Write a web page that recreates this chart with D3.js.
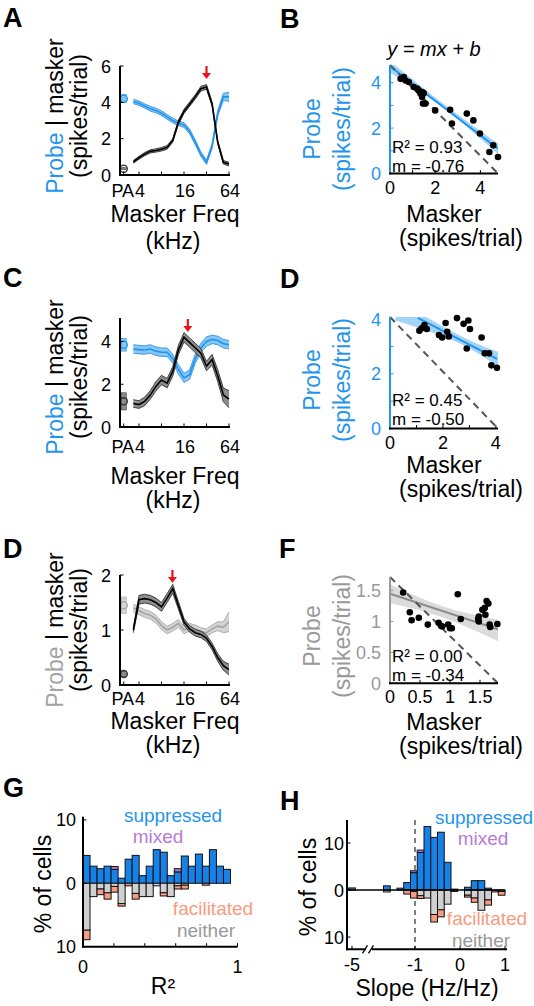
<!DOCTYPE html>
<html><head><meta charset="utf-8">
<script src="https://cdn.jsdelivr.net/npm/d3@7"></script>
<style>
body{margin:0;background:#fff}
svg text{font-family:"Liberation Sans",Arial,Helvetica,sans-serif;fill:#000}
</style></head><body>
<svg id="fig" width="534" height="1006"></svg>
<script>
// ---------------- DATA ----------------
const freqsKHz = [3.36,4,4.76,5.66,6.73,8,9.51,11.31,13.45,16,19.03,22.63,26.91,32,38.05,45.25,53.82,64];
const freqTickVals = [4,8,16,32,64];
const freqTickLabels = ["4","16","64"];

// Panel A
const aMasker    = [0.72,0.95,1.15,1.3,1.35,1.42,1.52,1.9,2.9,3.5,3.9,4.3,4.75,4.85,3.9,1.8,0.7,0.6];
const aMaskerSem = [0.08,0.08,0.09,0.09,0.09,0.1,0.1,0.1,0.12,0.12,0.12,0.12,0.13,0.13,0.12,0.1,0.1,0.1];
const aProbe     = [4.05,3.95,3.8,3.65,3.55,3.4,3.2,3.0,2.85,2.75,2.4,1.8,1.15,0.7,1.6,3.4,4.3,4.3];
const aProbeSem  = [0.12,0.12,0.12,0.13,0.13,0.13,0.13,0.13,0.13,0.13,0.13,0.13,0.12,0.12,0.13,0.15,0.2,0.25];
const aPA = {probe:4.2, probeSem:0.22, masker:0.35, maskerSem:0.05};
const aArrowKHz = 32;
// Panel C
const cMasker    = [1.1,1.05,1.2,1.5,1.9,2.2,2.05,2.6,3.6,4.2,3.95,3.7,3.45,2.85,3.15,2.4,1.5,1.3];
const cMaskerSem = [0.18,0.18,0.2,0.2,0.22,0.22,0.22,0.22,0.22,0.22,0.22,0.22,0.22,0.22,0.25,0.28,0.32,0.4];
const cProbe     = [3.65,3.62,3.6,3.65,3.55,3.5,3.5,3.2,2.7,2.3,2.45,3.2,3.7,4.0,4.1,4.05,3.9,3.85];
const cProbeSem  = [0.2,0.2,0.2,0.2,0.2,0.2,0.2,0.2,0.22,0.22,0.22,0.22,0.22,0.22,0.2,0.2,0.2,0.2];
const cPA = {probe:3.85, probeSem:0.3, masker:1.2, maskerSem:0.4};
const cArrowKHz = 18;
// Panel D (left)
const eMasker    = [1.0,1.55,1.57,1.55,1.5,1.42,1.58,1.75,1.45,1.15,1.02,0.95,0.92,0.85,0.7,0.5,0.35,0.28];
const eMaskerSem = [0.05,0.08,0.08,0.08,0.08,0.08,0.08,0.08,0.07,0.06,0.06,0.06,0.06,0.06,0.06,0.07,0.08,0.1];
const eProbe     = [1.4,1.35,1.3,1.27,1.2,1.08,1.0,1.05,1.12,1.0,1.05,1.02,0.97,0.95,1.02,1.07,1.05,1.15];
const eProbeSem  = [0.07,0.07,0.07,0.07,0.07,0.07,0.07,0.07,0.07,0.07,0.07,0.07,0.07,0.07,0.07,0.08,0.1,0.18];
const ePA = {probe:1.45, probeSem:0.15, masker:0.2, maskerSem:0.05};
const eArrowKHz = 11.2;

// Panel B scatter
const bMasker = [0.47,0.61,0.69,0.83,1.05,1.20,1.27,1.35,1.42,1.49,1.42,1.46,1.57,2.0,2.66,2.74,3.40,3.69,3.98,4.57,4.40,4.78];
const bProbe  = [4.17,4.25,4.10,4.03,3.81,3.74,3.66,3.52,3.59,3.54,3.37,3.08,3.08,2.78,2.81,2.2,2.64,2.34,1.76,1.24,0.95,0.73];
const bFit = {m:-0.76, b:4.72, r2:"0.93", mText:"-0.76", from:0, to:4.78};
const bBand = {x:[0,2.4,4.78], lo:[4.45,2.86,0.85], hi:[4.95,3.04,1.32]};
// Panel D (right) scatter
const dMasker = [1.11,1.20,1.30,1.39,1.85,1.97,2.10,2.16,2.22,2.53,2.78,2.96,3.02,2.90,3.46,3.58,3.74,3.83,4.04];
const dProbe  = [3.58,3.67,3.79,3.64,3.42,3.33,3.86,3.54,3.37,4.04,3.83,3.95,3.64,2.93,3.33,2.75,2.75,2.31,2.22];
const dFit = {m:-0.5, b:4.57, r2:"0.45", mText:"-0.50", from:1.05, to:4.04};
const dBand = {x:[0.2,2.5,4.1], lo:[3.95,3.17,2.24], hi:[4.75,3.47,2.8]};
// Panel F scatter
const fMasker = [0.22,0.33,0.36,0.48,0.63,0.81,0.85,0.87,0.97,1.0,1.03,1.13,1.18,1.47,1.48,1.48,1.54,1.58,1.61,1.64,1.59,1.66,1.67,1.79];
const fProbe  = [1.47,1.15,1.02,1.06,0.95,0.98,0.93,0.92,0.95,0.89,0.89,1.44,1.04,1.04,1.08,1.0,1.19,1.22,1.33,1.29,1.11,0.95,0.91,0.96];
const fFit = {m:-0.32, b:1.45, r2:"0.00", mText:"-0.34", from:0, to:1.8};
const fBand = {x:[0,0.9,1.8], lo:[1.3,1.06,0.68], hi:[1.6,1.24,1.03]};

// Panel G histogram (R^2), bin width 1/22
const gBinWidth = 1/22;
const gSuppressed  = [4.4,2.7,2.3,2.7,2.2,0.8,3.8,4.4,1.2,2.7,5.3,4.9,1.2,1.8,4.3,2.7,4.6,2.7,5.3,2.7,2.2];
const gMixed       = [0,0,0,0,0.45,0,0,0,0,0,0,0,0,0.5,0,0,0,0,0,0,0];
const gNeither     = [7.4,2.1,0.9,1.5,0.5,3.2,0,1.6,2.1,2.1,0.4,1.5,2.1,0.4,0.3,0,0,0,0,0,0];
const gFacilitated = [1.5,0,0.9,1.0,0.9,0.4,0.4,0.9,0,0,0,0.5,0,0.5,0.6,0,0,0.3,0,0,0];
const gXTicks = [0,0.2,0.4,0.6,0.8,1];

// Panel H histogram (slope), bin width 0.15
const hBinWidth = 0.15;
const hCenters     = [-5,-1.625,-1.475,-1.325,-1.175,-1.025,-0.875,-0.725,-0.575,-0.425,-0.275,-0.125,0.025,0.175,0.325,0.475,0.625,0.775,0.925];
const hSuppressed  = [0.45,0.9,0,0.4,1.6,3.7,8.0,13.5,11.2,12.3,5.9,0.2,0,0.6,2.0,2.0,0.4,0,0];
const hMixed       = [0,0,0,0,0,0.4,0.5,0,0,0,0,0,0,0,0,0,0,0,0];
const hNeither     = [0,0.4,0,0,0,0.3,1.2,1.7,5.2,4.2,3.0,0.3,0,1.1,1.7,4.3,2.1,0,0.3];
const hFacilitated = [0,0,0,0,0.85,1.4,0.6,0,1.6,1.5,0,0,0,0.4,0.9,0,1.1,0.4,0.8];
const hXTicks = [-5,-1,0,1];

// ---------------- STYLE ----------------
const BLUE = "#1f95ee", BLUE_FILL = "#86c6f4", BLUE_EDGE = "#2a8ae0";
const GRAY = "#a3a3a3", GRAY_FILL = "#d4d4d4", GRAY_EDGE = "#a0a0a0";
const BAR_BLUE = "#1682e8", BAR_GRAY = "#d0d0d0", BAR_ORANGE = "#f79c80", PURPLE = "#b57bd6";
const RED = "#e8141c";
const TICK = 18, LAB = 23;

const svg = d3.select("#fig");
svg.append("rect").attr("width",534).attr("height",1006).attr("fill","#fff");

function letter(t,x,y){
  svg.append("text").attr("x",x).attr("y",y).attr("font-size",27).attr("font-weight","bold").text(t);
}
function rotLabel(x,y,parts,size){
  const t = svg.append("text").attr("transform",`translate(${x},${y}) rotate(-90)`)
    .attr("text-anchor","middle").attr("font-size",size||LAB);
  parts.forEach(p=>t.append("tspan").style("fill",p[1]).text(p[0]));
}
function txt(x,y,s,o={}){
  const t = svg.append("text").attr("x",x).attr("y",y).attr("font-size",o.size||TICK)
    .attr("text-anchor",o.anchor||"start").text(s);
  if(o.color) t.style("fill",o.color);
  if(o.italic) t.attr("font-style","italic");
  return t;
}

// ---------------- TUNING PANELS ----------------
function tuning(o){
  const x = d3.scaleLog().base(2).domain([4,64]).range([139,229]);
  const y = d3.scaleLinear().domain([0,o.yMax]).range([o.y0,o.yTop]);
  const xL = 120, xR = 230, paX = x(2.5);
  const g = svg.append("g");
  function series(vals, sems, fill, edge, line){
    const pts = vals.map((v,i)=>({f:freqsKHz[i],v,s:sems[i]}));
    g.append("path").datum(pts).attr("fill",fill).attr("stroke","none")
      .attr("d",d3.area().x(d=>x(d.f)).y0(d=>y(d.v-d.s)).y1(d=>y(d.v+d.s)));
    [-1,1].forEach(sg=>{
      g.append("path").datum(pts).attr("fill","none").attr("stroke",edge).attr("stroke-width",0.8)
        .attr("d",d3.line().x(d=>x(d.f)).y(d=>y(d.v+sg*d.s)));
    });
    g.append("path").datum(pts).attr("fill","none").attr("stroke",line).attr("stroke-width",1.6)
      .attr("d",d3.line().x(d=>x(d.f)).y(d=>y(d.v)));
  }
  series(o.probe,o.probeSem,o.pFill,o.pEdge,o.pLine);
  series(o.masker,o.maskerSem,"#8d8d8d","#222","#000");
  function pa(v,s,fill,col){
    g.append("rect").attr("x",paX-2.5).attr("width",5).attr("y",y(v+s)).attr("height",Math.max(1,y(v-s)-y(v+s)))
      .attr("fill",fill).attr("stroke",col).attr("stroke-width",0.6);
    g.append("circle").attr("cx",paX).attr("cy",y(v)).attr("r",3.6).attr("fill","none").attr("stroke",col).attr("stroke-width",1.3);
  }
  pa(o.pa.probe,o.pa.probeSem,o.pFill,o.pLine);
  pa(o.pa.masker,o.pa.maskerSem,"#8d8d8d","#333");
  g.append("line").attr("x1",xL).attr("x2",xL).attr("y1",o.yTop).attr("y2",o.y0+1).attr("stroke","#000").attr("stroke-width",2);
  g.append("line").attr("x1",xL-1).attr("x2",xR).attr("y1",o.y0).attr("y2",o.y0).attr("stroke","#000").attr("stroke-width",2);
  o.yTicks.forEach(t=>{
    g.append("line").attr("x1",xL).attr("x2",xL+3.5).attr("y1",y(t)).attr("y2",y(t)).attr("stroke","#000").attr("stroke-width",1);
    txt(111,y(t)+6.5,String(t),{anchor:"end"});
  });
  [paX].concat(freqTickVals.map(f=>x(f))).forEach(px=>{
    g.append("line").attr("x1",px).attr("x2",px).attr("y1",o.y0).attr("y2",o.y0-3.5).attr("stroke","#000").attr("stroke-width",1);
  });
  txt(paX-1,o.y0+o.tickDy,"PA",{anchor:"middle"});
  freqTickLabels.forEach(l=>{ txt(x(+l)+1,o.y0+o.tickDy,l,{anchor:"middle"}); });
  txt(175,o.xl1,"Masker Freq",{anchor:"middle",size:LAB});
  txt(173,o.xl2,"(kHz)",{anchor:"middle",size:LAB});
  rotLabel(63,o.ylc,[["Probe",o.pText],[" | masker","#000"]]);
  rotLabel(87,o.ylc,[["(spikes/trial)","#000"]]);
  const ax = x(o.arrow);
  g.append("line").attr("x1",ax).attr("x2",ax).attr("y1",o.arrowY).attr("y2",o.arrowY+8).attr("stroke",RED).attr("stroke-width",2.2);
  g.append("path").attr("d",`M${ax-4.5},${o.arrowY+7} L${ax+4.5},${o.arrowY+7} L${ax},${o.arrowY+13} Z`).attr("fill",RED);
}

tuning({masker:aMasker,maskerSem:aMaskerSem,probe:aProbe,probeSem:aProbeSem,pa:aPA,arrow:aArrowKHz,
  yMax:6,y0:175,yTop:66,yTicks:[0,2,4,6],tickDy:22,xl1:222,xl2:249,ylc:116,arrowY:66,
  pFill:BLUE_FILL,pEdge:BLUE_EDGE,pLine:BLUE,pText:BLUE});
tuning({masker:cMasker,maskerSem:cMaskerSem,probe:cProbe,probeSem:cProbeSem,pa:cPA,arrow:cArrowKHz,
  yMax:5.1,y0:427,yTop:318,yTicks:[0,2,4],tickDy:26,xl1:484,xl2:508,ylc:377,arrowY:319,
  pFill:BLUE_FILL,pEdge:BLUE_EDGE,pLine:BLUE,pText:BLUE});
tuning({masker:eMasker,maskerSem:eMaskerSem,probe:eProbe,probeSem:eProbeSem,pa:ePA,arrow:eArrowKHz,
  yMax:2,y0:685,yTop:575,yTicks:[0,1,2],tickDy:20,xl1:729,xl2:753,ylc:630,arrowY:570,
  pFill:GRAY_FILL,pEdge:GRAY_EDGE,pLine:GRAY,pText:GRAY});

// ---------------- SCATTER PANELS ----------------
let clipId = 0;
function scatter(o){
  const x = d3.scaleLinear().domain([0,o.xMax]).range([390,498]);
  const y = d3.scaleLinear().domain([0,o.yMax]).range([o.y0,o.yTop]);
  const id = "clip"+(clipId++);
  svg.append("clipPath").attr("id",id).append("rect").attr("x",390).attr("y",o.yTop).attr("width",108).attr("height",o.y0-o.yTop);
  const g = svg.append("g");
  const gc = g.append("g").attr("clip-path",`url(#${id})`);
  g.append("line").attr("x1",x(0)).attr("y1",y(o.yMax)).attr("x2",x(o.xMax)).attr("y2",y(0))
    .attr("stroke","#555").attr("stroke-width",2).attr("stroke-dasharray","7,5");
  const bp = o.band.x.map((v,i)=>({x:v,lo:o.band.lo[i],hi:o.band.hi[i]}));
  gc.append("path").datum(bp).attr("fill",o.bandFill).attr("opacity",0.75)
    .attr("d",d3.area().curve(d3.curveNatural).x(d=>x(d.x)).y0(d=>y(d.lo)).y1(d=>y(d.hi)));
  gc.append("line").attr("x1",x(o.fit.from)).attr("y1",y(o.fit.b+o.fit.m*o.fit.from))
    .attr("x2",x(o.fit.to)).attr("y2",y(o.fit.b+o.fit.m*o.fit.to)).attr("stroke",o.lineCol).attr("stroke-width",2);
  o.mx.forEach((v,i)=>{ g.append("circle").attr("cx",x(v)).attr("cy",y(o.py[i])).attr("r",3.3).attr("fill","#000"); });
  g.append("line").attr("x1",390).attr("x2",390).attr("y1",o.yTop).attr("y2",o.y0+1).attr("stroke",o.axisCol).attr("stroke-width",2);
  g.append("line").attr("x1",389).attr("x2",498).attr("y1",o.y0).attr("y2",o.y0).attr("stroke","#000").attr("stroke-width",2);
  o.yMinor.forEach(t=>{ g.append("line").attr("x1",390).attr("x2",393.5).attr("y1",y(t)).attr("y2",y(t)).attr("stroke",o.axisCol); });
  o.xMinor.forEach(t=>{ g.append("line").attr("x1",x(t)).attr("x2",x(t)).attr("y1",o.y0).attr("y2",o.y0-3.5).attr("stroke","#000"); });
  o.yTicks.forEach(t=>{ txt(381,y(t)+6.5,String(t),{anchor:"end",color:o.axisCol}); });
  o.xTicks.forEach(t=>{ txt(x(t),o.y0+20,String(t),{anchor:"middle"}); });
  txt(392,o.r2y,"R² = "+o.fit.r2,{size:17});
  txt(392,o.r2y+19,"m = "+o.fit.mText,{size:17});
  txt(444,o.xl1,"Masker",{anchor:"middle",size:LAB});
  txt(461,o.xl1+24,"(spikes/trial)",{anchor:"middle",size:LAB});
  rotLabel(320,o.ylc,[["Probe",o.axisCol]]);
  rotLabel(350,o.ylc,[["(spikes/trial)",o.axisCol]]);
}
scatter({mx:bMasker,py:bProbe,fit:bFit,band:bBand,xMax:4.78,yMax:4.78,y0:173.5,yTop:65,
  yTicks:[0,2,4],yMinor:[1,2,3,4],xTicks:[0,2,4],xMinor:[1,2,3,4],r2y:153,xl1:222,ylc:129,
  axisCol:BLUE,bandFill:BLUE_FILL,lineCol:BLUE});
scatter({mx:dMasker,py:dProbe,fit:dFit,band:dBand,xMax:4.08,yMax:4.08,y0:428.5,yTop:317,
  yTicks:[0,2,4],yMinor:[1,2,3],xTicks:[0,2,4],xMinor:[1,2,3,4],r2y:406,xl1:473,ylc:380,
  axisCol:BLUE,bandFill:BLUE_FILL,lineCol:BLUE});
scatter({mx:fMasker,py:fProbe,fit:fFit,band:fBand,xMax:1.8,yMax:1.72,y0:683.3,yTop:577,
  yTicks:[0,0.5,1,1.5],yMinor:[0.5,1,1.5],xTicks:[0,0.5,1,1.5],xMinor:[0.5,1,1.5],r2y:662,xl1:730,ylc:636,
  axisCol:"#999",bandFill:"#cfcfcf",lineCol:"#8a8a8a"});
txt(434,56,"y = mx + b",{anchor:"middle",size:20,italic:true});

// ---------------- HISTOGRAMS ----------------
function stackedBars(g, xs, w, xf, y, sup, mix, nei, fac){
  xs.forEach((c,i)=>{
    const x0 = xf(c - w/2), x1 = xf(c + w/2);
    const add = (a,b,fill)=>{ if(Math.abs(b-a)<1e-9) return;
      g.append("rect").attr("x",x0).attr("width",x1-x0).attr("y",y(Math.max(a,b))).attr("height",Math.abs(y(a)-y(b)))
        .attr("fill",fill).attr("stroke","#111").attr("stroke-width",1);};
    add(0,sup[i],BAR_BLUE);
    add(sup[i],sup[i]+mix[i],PURPLE);
    add(0,-nei[i],BAR_GRAY);
    add(-nei[i],-nei[i]-fac[i],BAR_ORANGE);
  });
}
// G
(function(){
  const x = d3.scaleLinear().domain([0,1]).range([83,237.5]);
  const y = d3.scaleLinear().domain([-10,10.5]).range([946.7,816.7]);
  const g = svg.append("g");
  const centers = gSuppressed.map((_,i)=>(i+0.5)*gBinWidth);
  stackedBars(g,centers,gBinWidth,x,y,gSuppressed,gMixed,gNeither,gFacilitated);
  g.append("line").attr("x1",83).attr("x2",83).attr("y1",y(10.5)).attr("y2",y(-10)+1).attr("stroke","#000").attr("stroke-width",2);
  g.append("line").attr("x1",82).attr("x2",237.5).attr("y1",y(-10)).attr("y2",y(-10)).attr("stroke","#000").attr("stroke-width",2);
  [10,0,-10].forEach(t=>{
    g.append("line").attr("x1",83).attr("x2",86.5).attr("y1",y(t)).attr("y2",y(t)).attr("stroke","#000");
    txt(76,y(t)+6.5,String(Math.abs(t)),{anchor:"end"});
  });
  gXTicks.forEach(t=>{ g.append("line").attr("x1",x(t)).attr("x2",x(t)).attr("y1",y(-10)).attr("y2",y(-10)-3.5).attr("stroke","#000"); });
  [0,1].forEach(t=>{ txt(x(t),973,String(t),{anchor:"middle"}); });
  txt(163,994,"R²",{anchor:"middle",size:LAB});
  rotLabel(51,884,[["% of cells","#000"]]);
  txt(173,822,"suppressed",{anchor:"middle",size:19,color:BLUE});
  txt(158,843,"mixed",{anchor:"middle",size:19,color:PURPLE});
  txt(213,915,"facilitated",{anchor:"middle",size:19,color:BAR_ORANGE});
  txt(206,937,"neither",{anchor:"middle",size:19,color:"#999"});
})();
// H
(function(){
  const xs = d3.scaleLinear().domain([-1,1]).range([415,505]);
  const x = v => v <= -4 ? xs(v + 2.6) : xs(v);
  const y = d3.scaleLinear().domain([-12.6,14.9]).range([949.3,820]);
  const g = svg.append("g");
  g.append("line").attr("x1",xs(-1)).attr("x2",xs(-1)).attr("y1",y(14.9)).attr("y2",y(-12.6))
    .attr("stroke","#555").attr("stroke-width",1.5).attr("stroke-dasharray","5,4");
  stackedBars(g,hCenters,hBinWidth,x,y,hSuppressed,hMixed,hNeither,hFacilitated);
  g.append("line").attr("x1",347).attr("x2",505).attr("y1",y(0)).attr("y2",y(0)).attr("stroke","#000").attr("stroke-width",1.5);
  g.append("line").attr("x1",347).attr("x2",347).attr("y1",y(14.9)).attr("y2",y(-12.6)+1).attr("stroke","#000").attr("stroke-width",2);
  g.append("line").attr("x1",346).attr("x2",507).attr("y1",y(-12.6)).attr("y2",y(-12.6)).attr("stroke","#000").attr("stroke-width",2);
  g.append("rect").attr("x",366).attr("y",y(-12.6)-2).attr("width",6).attr("height",4).attr("fill","#fff");
  [365,371].forEach(bx=>{ g.append("line").attr("x1",bx-2.5).attr("y1",y(-12.6)+4).attr("x2",bx+2.5).attr("y2",y(-12.6)-4).attr("stroke","#000").attr("stroke-width",1.3); });
  [10,0,-10].forEach(t=>{
    g.append("line").attr("x1",347).attr("x2",350.5).attr("y1",y(t)).attr("y2",y(t)).attr("stroke","#000");
    txt(344,y(t)+6.5,String(Math.abs(t)),{anchor:"end"});
  });
  hXTicks.forEach(t=>{
    g.append("line").attr("x1",x(t)).attr("x2",x(t)).attr("y1",y(-12.6)).attr("y2",y(-12.6)-3.5).attr("stroke","#000");
    txt(x(t),971,String(t),{anchor:"middle"});
  });
  txt(427,996,"Slope (Hz/Hz)",{anchor:"middle",size:LAB});
  rotLabel(316,887,[["% of cells","#000"]]);
  txt(484,824,"suppressed",{anchor:"middle",size:19,color:BLUE});
  txt(483,845,"mixed",{anchor:"middle",size:19,color:PURPLE});
  txt(487,925,"facilitated",{anchor:"middle",size:19,color:BAR_ORANGE});
  txt(481,947,"neither",{anchor:"middle",size:19,color:"#999"});
})();

letter("A",3,27); letter("B",280,28); letter("C",3,287); letter("D",280,288);
letter("D",3,558); letter("F",279,558); letter("G",3,797); letter("H",280,810);
</script>
</body></html>
